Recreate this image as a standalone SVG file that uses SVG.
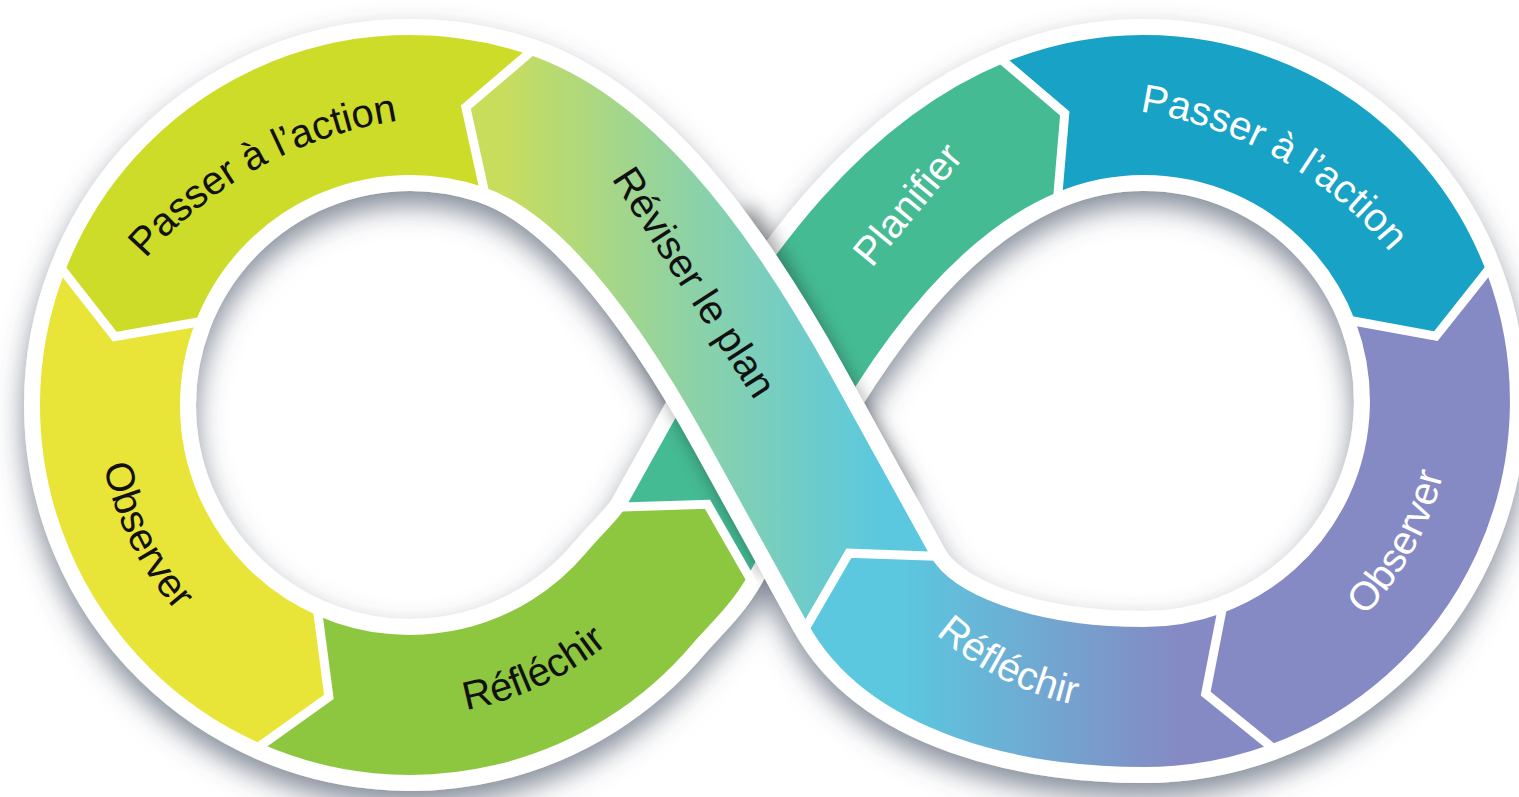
<svg xmlns="http://www.w3.org/2000/svg" width="1519" height="797" viewBox="0 0 1519 797">
<defs>
<style>
.band{fill:none;stroke-width:140;stroke-linecap:butt;stroke-linejoin:round}
.wb{fill:none;stroke:#fff;stroke-width:172;stroke-linecap:butt;stroke-linejoin:round}
.lbl{font-family:"Liberation Sans",Arial,sans-serif;font-size:40px}
.dark{fill:#111}
.light{fill:#fff}
.sep{fill:none;stroke:#fff;stroke-width:9;stroke-linejoin:miter;stroke-linecap:butt}
</style>
<filter id="drop" filterUnits="userSpaceOnUse" x="-60" y="-60" width="1640" height="920">
<feDropShadow dx="0" dy="14" stdDeviation="14" flood-color="#4a5468" flood-opacity="0.68"/>
</filter>
<filter id="blur" filterUnits="userSpaceOnUse" x="450" y="100" width="600" height="620"><feGaussianBlur stdDeviation="9"/></filter>
<linearGradient id="gRev" gradientUnits="userSpaceOnUse" x1="500" y1="0" x2="880" y2="0">
<stop offset="0" stop-color="#c9dd5c"/><stop offset="0.5" stop-color="#8dd2a6"/><stop offset="1" stop-color="#5bc8df"/>
</linearGradient>
<linearGradient id="gRefR" gradientUnits="userSpaceOnUse" x1="900" y1="0" x2="1180" y2="0">
<stop offset="0" stop-color="#5bc8df"/><stop offset="1" stop-color="#8589c4"/>
</linearGradient>
<path id="tPasserL" d="M143 262 A420 420 0 0 1 402 120"/>
<path id="tObsL" d="M98.1 412.1 A312 312 0 0 0 214.9 648.5"/>
<path id="tRefL" d="M410 715 A310 310 0 0 0 647.5 604.3"/>
<path id="tRev" d="M596 155 L770 424"/>
<path id="tPlan" d="M854 290 L982 136"/>
<path id="tPasserR" d="M1143 112 A400 400 0 0 1 1388 250"/>
<path id="tObsR" d="M1325 650.2 A308 308 0 0 0 1451.2 422.5"/>
<path id="tRefR" d="M897 593 A311 311 0 0 0 1131 712"/>
</defs>
<rect width="1519" height="797" fill="#fff"/>
<g id="base" filter="url(#drop)">
<path class="wb" d="M505.7 120.6 A300 300 0 0 0 129.9 297.5 A300 300 0 0 0 290.4 680.1 A300 300 0 0 0 639.8 597.8 C655.9 578.6 674.8 562.8 687 541 L760 410 C823.4 296.5 911.3 176.6 1031.5 127.2 A296 296 0 0 1 1421 296.9 A296 296 0 0 1 1245.2 679.2 A296 296 0 0 1 1144 697 C1029 697 910.3 664.5 869.2 590 L769.9 410 C687.8 261.1 600.5 152.5 505.7 120.6 Z"/>
</g>
<g id="passer-gauche">
<path class="band" stroke="#cddc29" d="M505.7 120.6 A300 300 0 0 0 129.9 297.5"/>
<text class="lbl dark"><textPath href="#tPasserL" startOffset="50%" text-anchor="middle">Passer à l’action</textPath></text>
</g>
<g id="observer-gauche">
<path class="band" stroke="#e9e438" d="M129.9 297.5 A300 300 0 0 0 290.4 680.1"/>
<text class="lbl dark"><textPath href="#tObsL" startOffset="50%" text-anchor="middle">Observer</textPath></text>
</g>
<g id="reflechir-gauche">
<path class="band" stroke="#8dc63f" d="M290.4 680.1 A300 300 0 0 0 639.8 597.8 C655.9 578.6 674.8 562.8 687 541"/>
<text class="lbl dark"><textPath href="#tRefL" startOffset="50%" text-anchor="middle">Réfléchir</textPath></text>
</g>
<g id="planifier">
<path class="band" stroke="#45bb93" d="M687 541 L760 410 C823.4 296.5 911.3 176.6 1031.5 127.2"/>
<text class="lbl light"><textPath href="#tPlan" startOffset="50%" text-anchor="middle">Planifier</textPath></text>
</g>
<g id="passer-droite">
<path class="band" stroke="#18a2c5" d="M1031.5 127.2 A296 296 0 0 1 1421 296.9"/>
<text class="lbl light"><textPath href="#tPasserR" startOffset="50%" text-anchor="middle">Passer à l’action</textPath></text>
</g>
<g id="observer-droite">
<path class="band" stroke="#8589c4" d="M1421 296.9 A296 296 0 0 1 1245.2 679.2"/>
<text class="lbl light"><textPath href="#tObsR" startOffset="50%" text-anchor="middle">Observer</textPath></text>
</g>
<g id="reflechir-droite">
<path class="band" stroke="url(#gRefR)" d="M1245.2 679.2 A296 296 0 0 1 1144 697 C1029 697 910.3 664.5 869.2 590"/>
<text class="lbl light"><textPath href="#tRefR" startOffset="50%" text-anchor="middle">Réfléchir</textPath></text>
</g>
<g id="reviser">
<path d="M840 537 L769.9 410 L680 247" fill="none" stroke="#000" stroke-opacity="0.35" stroke-width="172" filter="url(#blur)"/>
<path class="wb" d="M869.2 590 L769.9 410 C687.8 261.1 600.5 152.5 505.7 120.6"/>
<path class="band" stroke="url(#gRev)" d="M869.2 590 L769.9 410 C687.8 261.1 600.5 152.5 505.7 120.6"/>
<text class="lbl dark"><textPath href="#tRev" startOffset="50%" text-anchor="middle">Réviser le plan</textPath></text>
</g>
<g id="connectors">
<polygon fill="url(#gRev)" points="528,54.2 465.9,107.2 483.4,187 486.2,188 530.8,55.2"/>
<polyline class="sep" points="537.1,46.4 465.9,107.2 486,198.7"/>
<polygon fill="#cddc29" points="64.5,272.4 114.8,336.7 195.3,322.6 196.4,319.8 65.6,269.6"/>
<polyline class="sep" points="57.1,263 114.8,336.7 207.1,320.5"/>
<polygon fill="#e9e438" points="262.5,744.3 328.9,696.8 318.3,615.9 315.5,614.7 259.7,743.1"/>
<polyline class="sep" points="252.7,751.3 328.9,696.8 316.7,604"/>
<polygon fill="#8dc63f" points="748.1,575.1 707.5,504.3 625.9,506.9 624.4,509.5 746.6,577.7"/>
<polyline class="sep" points="754.1,585.5 707.5,504.3 613.9,507.3"/>
<polygon fill="#45bb93" points="1058.1,191.9 1064.8,113.5 1004.9,62.5 1002.1,63.6 1055.3,193"/>
<polyline class="sep" points="1057.1,203.9 1064.8,113.5 995.8,54.7"/>
<polygon fill="#18a2c5" points="1355.5,321.5 1435.8,336.2 1486.5,272.3 1485.4,269.5 1354.4,318.7"/>
<polyline class="sep" points="1343.7,319.3 1435.8,336.2 1494,262.9"/>
<polygon fill="#8589c4" points="1221.3,613.4 1205.7,693.6 1269.1,745 1271.9,744 1224.1,612.4"/>
<polyline class="sep" points="1223.6,601.6 1205.7,693.6 1278.4,752.6"/>
<polygon fill="url(#gRefR)" points="930.5,556.2 848.9,553.2 807.9,623.8 809.4,626.4 932,558.8"/>
<polyline class="sep" points="942.5,556.6 848.9,553.2 801.9,634.2"/>
</g>
</svg>
